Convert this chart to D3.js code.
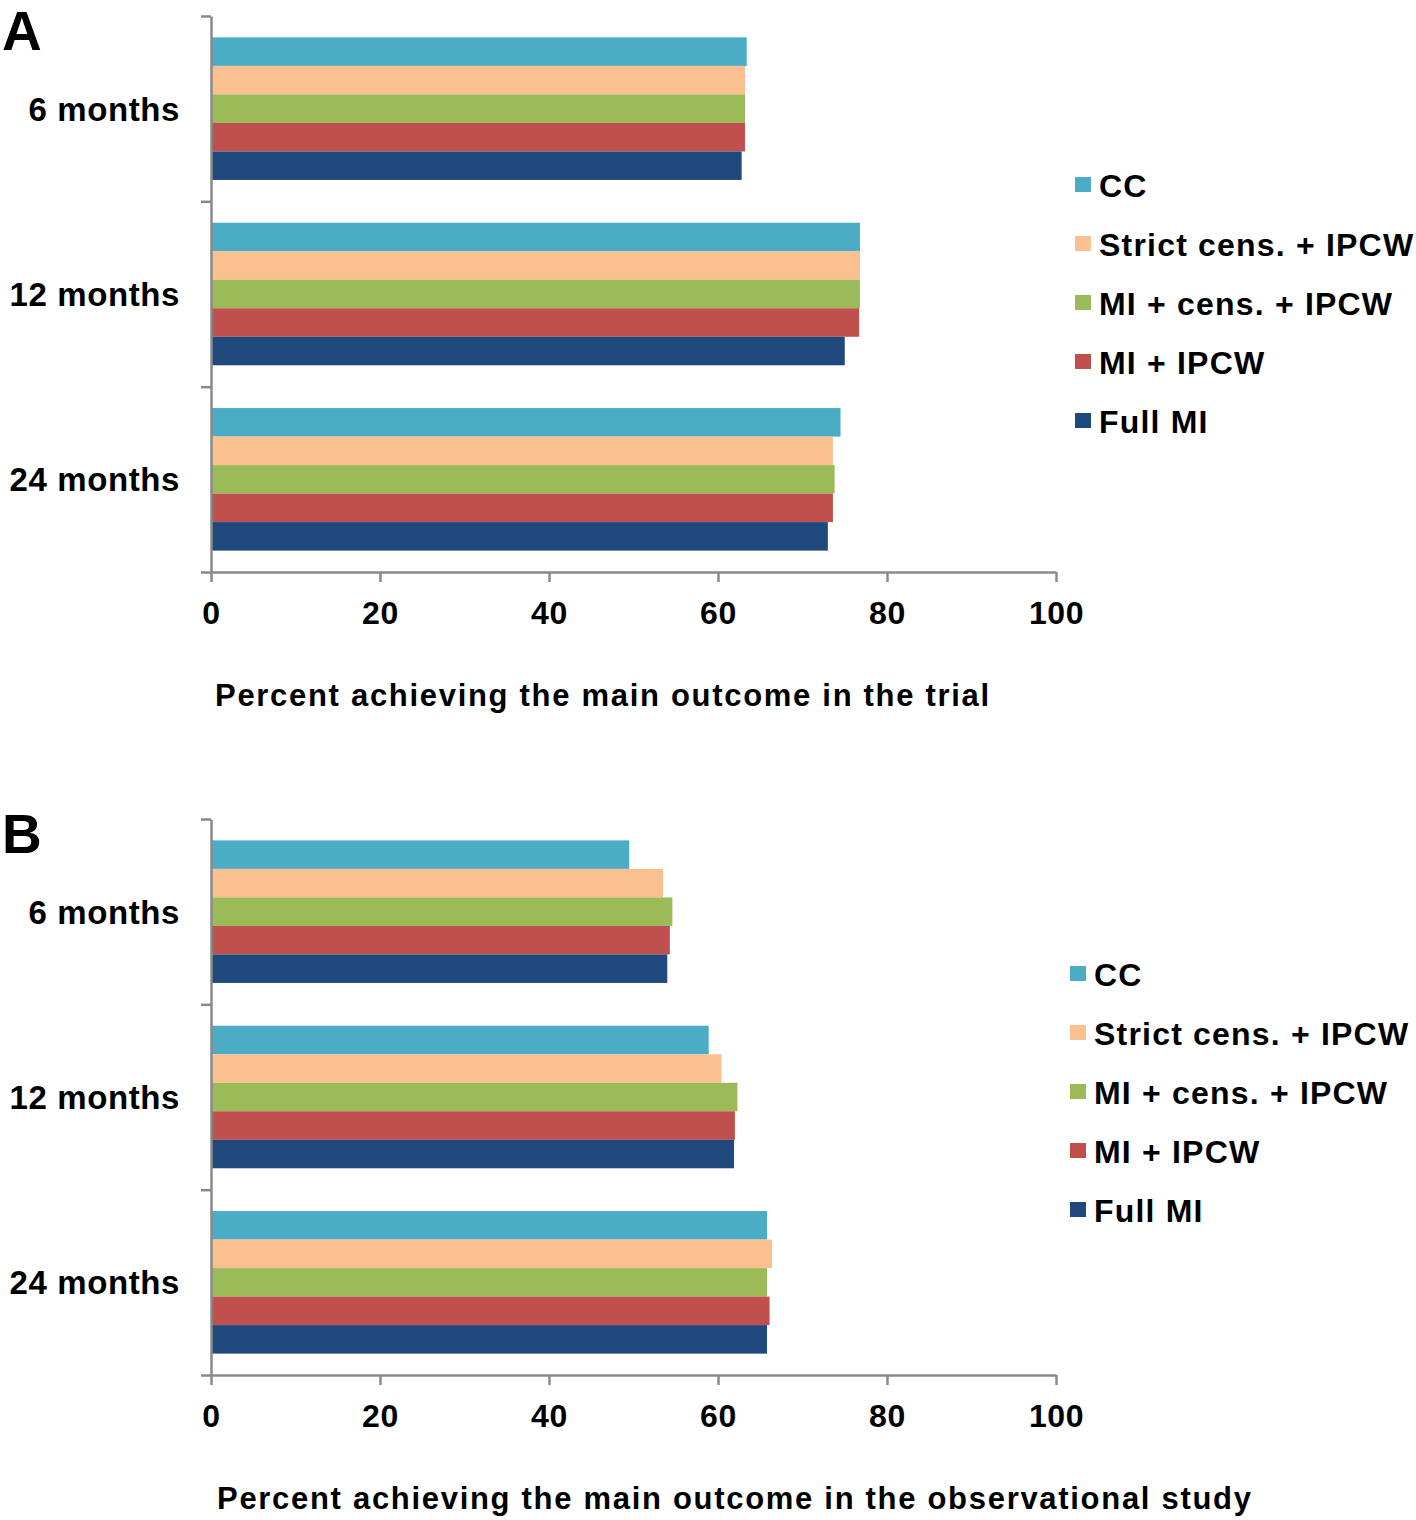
<!DOCTYPE html>
<html><head><meta charset="utf-8">
<script src="https://cdn.jsdelivr.net/npm/d3@7"></script>
<style>body{margin:0;background:#fff}svg{display:block}text{font-family:"Liberation Sans",Arial,sans-serif;font-weight:bold;fill:#000}</style>
</head><body><div id="chart"></div>
<script>
const categories = ["6 months", "12 months", "24 months"];
const series = ["CC", "Strict cens. + IPCW", "MI + cens. + IPCW", "MI + IPCW", "Full MI"];
const colors = ["#4bacc6", "#fac090", "#9bbb59", "#c0504d", "#1f497d"];
const xTicks = [0, 20, 40, 60, 80, 100];

// values per category, in series order
const trialValues = [
  [63.4, 63.2, 63.2, 63.2, 62.8],
  [76.8, 76.8, 76.8, 76.7, 75.0],
  [74.5, 73.6, 73.8, 73.6, 73.0]
];
const obsValues = [
  [49.5, 53.5, 54.6, 54.3, 54.0],
  [58.9, 60.4, 62.3, 62.0, 61.9],
  [65.8, 66.4, 65.8, 66.1, 65.8]
];

const svg = d3.select("#chart").append("svg").attr("width", 1416).attr("height", 1520);
const axisColor = "#8a8a8a";

function panel(opts) {
  const g = svg.append("g");
  const x = d3.scaleLinear().domain([0, 100]).range([211, 1056]);
  const y = d3.scaleBand().domain(categories).range([opts.top, opts.bottom]).paddingInner(0).paddingOuter(0);
  const yi = d3.scaleBand().domain(series).range([0, y.bandwidth()]).paddingInner(0).paddingOuter(0.75);

  // bars
  categories.forEach((c, ci) => {
    g.selectAll(null).data(opts.values[ci]).enter().append("rect")
      .attr("x", x(0))
      .attr("y", (d, i) => y(c) + yi(series[i]))
      .attr("width", d => x(d) - x(0))
      .attr("height", yi.bandwidth())
      .attr("fill", (d, i) => colors[i]);
  });

  // y axis with boundary ticks
  const yb = d3.scaleLinear().domain([0, categories.length]).range([opts.top, opts.bottom]);
  const ya = g.append("g").attr("transform", `translate(${x(0)},0)`)
    .call(d3.axisLeft(yb).tickValues(d3.range(categories.length + 1)).tickFormat("").tickSize(10).tickSizeOuter(0));
  ya.select(".domain").attr("stroke", axisColor).attr("stroke-width", 2.5);
  ya.selectAll(".tick line").attr("stroke", axisColor).attr("stroke-width", 2.5);

  // x axis
  const xa = g.append("g").attr("transform", `translate(0,${opts.bottom})`)
    .call(d3.axisBottom(x).tickValues(xTicks).tickSize(10).tickSizeOuter(0).tickPadding(19));
  xa.select(".domain").attr("stroke", axisColor).attr("stroke-width", 2.5);
  xa.selectAll(".tick line").attr("stroke", axisColor).attr("stroke-width", 2.5);
  xa.selectAll(".tick text").attr("font-size", 32).attr("font-family", '"Liberation Sans",Arial,sans-serif')
    .attr("font-weight", "bold").attr("fill", "#000").attr("dy", "0.71em").attr("letter-spacing", 0.6);

  // category labels
  g.selectAll(null).data(categories).enter().append("text")
    .attr("x", 180).attr("y", d => y(d) + y.bandwidth() / 2)
    .attr("dy", "0.36em").attr("text-anchor", "end").attr("font-size", 33)
    .attr("letter-spacing", 0.6).text(d => d);

  // axis title
  g.append("text").attr("x", opts.titleX).attr("y", opts.bottom + 134).attr("font-size", 31)
    .attr("letter-spacing", 1.7).text(opts.title);

  // panel letter
  g.append("text").attr("x", 2).attr("y", opts.top + 34).attr("font-size", 55).text(opts.letter);

  // legend
  const lg = g.append("g");
  series.forEach((s, i) => {
    const ly = opts.legendY + i * 59;
    lg.append("rect").attr("x", opts.legendX).attr("y", ly - 8).attr("width", 16).attr("height", 15).attr("fill", colors[i]);
    lg.append("text").attr("x", opts.legendX + 24).attr("y", ly).attr("dy", "0.36em").attr("font-size", 32)
      .attr("letter-spacing", 1.2).text(s);
  });
}

panel({top: 16, bottom: 572, values: trialValues, letter: "A",
  title: "Percent achieving the main outcome in the trial", titleX: 215, legendX: 1075, legendY: 185});
panel({top: 819, bottom: 1375, values: obsValues, letter: "B",
  title: "Percent achieving the main outcome in the observational study", titleX: 217, legendX: 1070, legendY: 974});
</script></body></html>
